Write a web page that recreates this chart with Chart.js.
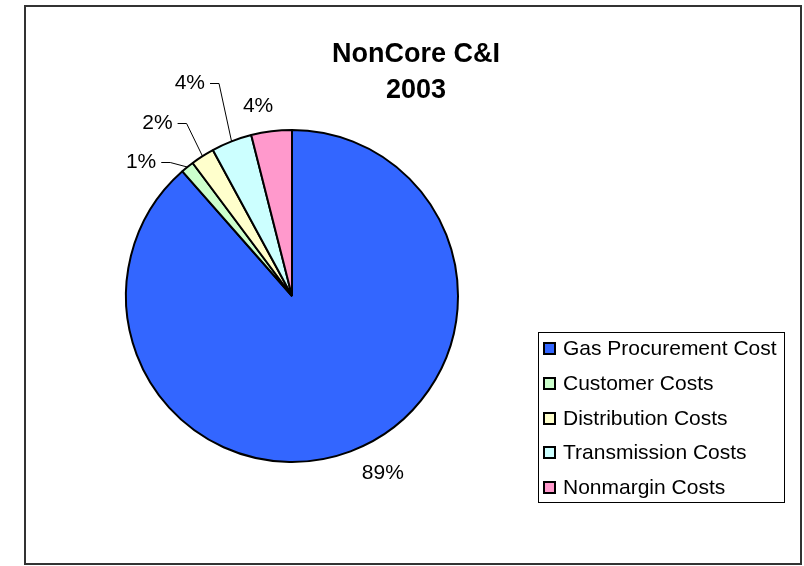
<!DOCTYPE html>
<html lang="en">
<head>
<meta charset="UTF-8">
<title>NonCore C&amp;I 2003</title>
<script src="https://cdn.jsdelivr.net/npm/chart.js"></script>
<style>
    html, body { margin: 0; padding: 0; background: #fff; }
    .frame {
        position: absolute; left: 24px; top: 5px;
        width: 778px; height: 560px;
        border: 2px solid #333; box-sizing: border-box;
    }
    canvas { display: block; }
</style>
</head>
<body>
<div class="frame"><canvas id="pieChart" width="774" height="556"></canvas></div>

<script>
    const titleLines = ['NonCore C&I', '2003'];
    const categories = ['Gas Procurement Cost', 'Customer Costs', 'Distribution Costs', 'Transmission Costs', 'Nonmargin Costs'];
    const shares = [88.52, 1.27, 2.30, 3.96, 3.95];
    const sliceColors = ['#3366FF', '#CCFFCC', '#FFFFCC', '#CCFFFF', '#FF99CC'];

    // where each % label sits: px past the rim, turn in degrees, leader line
    const labelGap = [33, 36, 53, 70, 27];
    const labelTurn = [-6.5, -9.3, -5.3, -4.3, -3];
    const labelLeader = [false, true, true, true, false];

    const FONT = '"Liberation Sans", Arial, sans-serif';

    // title, % labels and boxed legend drawn on top of the pie
    const extras = {
        id: 'extras',
        afterDraw(chart) {
            const ctx = chart.ctx;
            const arcs = chart.getDatasetMeta(0).data;
            const values = chart.data.datasets[0].data;
            const total = values.reduce((a, b) => a + b, 0);
            ctx.save();

            // title
            ctx.fillStyle = '#000';
            ctx.textAlign = 'center';
            ctx.textBaseline = 'alphabetic';
            ctx.font = 'bold 27px ' + FONT;
            titleLines.forEach((t, i) => ctx.fillText(t, 390, 55 + i * 36));

            // percentages
            ctx.font = '21px ' + FONT;
            ctx.textBaseline = 'middle';
            arcs.forEach((arc, i) => {
                const p = arc.getProps(['x', 'y', 'startAngle', 'endAngle', 'outerRadius'], true);
                const mid = (p.startAngle + p.endAngle) / 2;
                const a = mid + labelTurn[i] * Math.PI / 180;
                const r = p.outerRadius + labelGap[i];
                const lx = p.x + r * Math.cos(a);
                const ly = p.y + r * Math.sin(a);
                const text = Math.round(values[i] / total * 100) + '%';
                ctx.textAlign = 'center';
                ctx.fillStyle = '#000';
                ctx.fillText(text, lx, ly);
                if (labelLeader[i]) {
                    const right = lx + ctx.measureText(text).width / 2;
                    const yl = Math.round(ly) + 0.5;
                    ctx.beginPath();
                    ctx.moveTo(p.x + p.outerRadius * Math.cos(mid), p.y + p.outerRadius * Math.sin(mid));
                    ctx.lineTo(right + 14, yl);
                    ctx.lineTo(right + 5, yl);
                    ctx.strokeStyle = '#000';
                    ctx.lineWidth = 1;
                    ctx.stroke();
                }
            });

            // legend
            const box = { x: 512, y: 325, w: 246, h: 170 };
            ctx.strokeStyle = '#000';
            ctx.lineWidth = 1;
            ctx.strokeRect(box.x + 0.5, box.y + 0.5, box.w, box.h);
            ctx.textAlign = 'left';
            chart.data.labels.forEach((label, i) => {
                const cy = Math.round(box.y + 17.3 + i * 34.6);
                ctx.fillStyle = chart.data.datasets[0].backgroundColor[i];
                ctx.fillRect(box.x + 6, cy - 6, 11, 11);
                ctx.lineWidth = 2;
                ctx.strokeStyle = '#000';
                ctx.strokeRect(box.x + 6, cy - 6, 11, 11);
                ctx.fillStyle = '#000';
                ctx.fillText(label, box.x + 25, cy);
            });

            ctx.restore();
        }
    };

    new Chart(document.getElementById('pieChart'), {
        type: 'pie',
        data: {
            labels: categories,
            datasets: [{
                data: shares,
                backgroundColor: sliceColors,
                borderColor: '#000',
                borderWidth: 2,
                hoverOffset: 0
            }]
        },
        options: {
            responsive: false,
            animation: false,
            events: [],
            layout: { padding: { top: 122, left: 20, right: 262, bottom: 100 } },
            plugins: {
                legend: { display: false },
                tooltip: { enabled: false },
                title: { display: false }
            }
        },
        plugins: [extras]
    });
</script>
</body>
</html>
